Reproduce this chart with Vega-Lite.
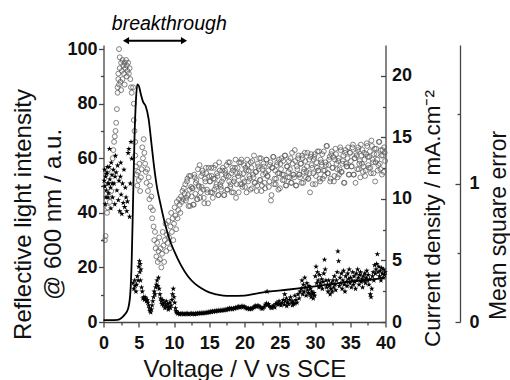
{
"$schema": "https://vega.github.io/schema/vega-lite/v6.json",
"width": 282, "height": 277,
"autosize": {"type": "none"},
"padding": {"left": 103.5, "top": 45, "right": 124.5, "bottom": 58},
"background": "white",
"datasets": {
"refl": [
{"v":0.2,"r":30},{"v":0.3,"r":31.5},{"v":0.5,"r":40},{"v":0.6,"r":42},{"v":0.8,"r":46},{"v":0.9,"r":44},{"v":1.1,"r":48},
{"v":1.2,"r":55},{"v":1.3,"r":60},{"v":1.4,"r":63},{"v":1.5,"r":66},{"v":1.6,"r":68},{"v":1.7,"r":70},{"v":1.8,"r":73},{"v":1.9,"r":78},
{"v":2.0,"r":84},{"v":2.0,"r":86},{"v":2.1,"r":89},{"v":2.1,"r":91},{"v":2.2,"r":100},{"v":2.2,"r":87},{"v":2.3,"r":97},{"v":2.3,"r":93},{"v":2.4,"r":88},{"v":2.5,"r":95},{"v":2.5,"r":85},{"v":2.6,"r":92},{"v":2.7,"r":96},{"v":2.7,"r":89},{"v":2.8,"r":94},{"v":2.9,"r":91},{"v":3.0,"r":95},{"v":3.0,"r":87},{"v":3.1,"r":93},{"v":3.2,"r":96},{"v":3.3,"r":90},{"v":3.3,"r":94},{"v":3.4,"r":92},{"v":3.5,"r":95},{"v":3.6,"r":91},{"v":3.7,"r":93},{"v":3.8,"r":89},{"v":3.9,"r":86},{"v":4.0,"r":84},
{"v":4.2,"r":86},{"v":4.3,"r":80},{"v":4.3,"r":74},{"v":4.4,"r":70},{"v":4.5,"r":66},{"v":4.5,"r":61},{"v":4.6,"r":57},{"v":4.7,"r":54},{"v":4.8,"r":50},{"v":4.9,"r":55},{"v":5.0,"r":52},{"v":5.1,"r":58},{"v":5.2,"r":48},{"v":5.3,"r":53},{"v":5.4,"r":56},{"v":5.5,"r":64},{"v":5.6,"r":60},{"v":5.7,"r":67},{"v":5.8,"r":62},{"v":5.9,"r":58},{"v":6.0,"r":55},{"v":6.1,"r":51},{"v":6.2,"r":56},{"v":6.3,"r":48},{"v":6.4,"r":53},{"v":6.5,"r":45},{"v":6.6,"r":50},{"v":6.7,"r":42},{"v":6.8,"r":46},{"v":6.9,"r":38},{"v":7.0,"r":41},{"v":7.1,"r":35},{"v":7.2,"r":30},{"v":7.3,"r":33},{"v":7.4,"r":27},{"v":7.5,"r":24},{"v":7.6,"r":29},{"v":7.7,"r":22},{"v":7.8,"r":26},{"v":7.9,"r":31},{"v":8.0,"r":23},{"v":8.1,"r":27},{"v":8.2,"r":20},{"v":8.3,"r":25},{"v":8.4,"r":33},{"v":8.5,"r":28},{"v":8.6,"r":22},{"v":8.7,"r":30},{"v":8.8,"r":36},{"v":8.9,"r":26},{"v":9.0,"r":32},{"v":9.1,"r":29},{"v":9.2,"r":37},{"v":9.3,"r":31},{"v":9.4,"r":27},{"v":9.5,"r":35},{"v":9.6,"r":40},{"v":9.7,"r":33},{"v":9.8,"r":38},{"v":9.9,"r":30},{"v":10.0,"r":36},{"v":10.1,"r":42},{"v":10.2,"r":39},{"v":10.3,"r":34},{"v":10.4,"r":44},{"v":10.5,"r":38},{"v":10.6,"r":41},{"v":10.7,"r":45},{"v":10.8,"r":43},{"v":10.9,"r":40},{"v":11.0,"r":46},{"v":11.1,"r":44},{"v":11.2,"r":48},{"v":11.3,"r":45},{"v":11.4,"r":49},{"v":11.5,"r":47},
{"v":11.6,"r":50.5},{"v":11.75,"r":45.5},{"v":11.9,"r":52.5},{"v":12.05,"r":42.5},{"v":12.2,"r":48.5},{"v":12.35,"r":53.5},{"v":12.5,"r":46},{"v":12.65,"r":49},{"v":12.8,"r":43},{"v":12.95,"r":53},{"v":13.1,"r":51},{"v":13.25,"r":45},{"v":13.4,"r":56},{"v":13.55,"r":49.5},{"v":13.7,"r":45.5},{"v":13.85,"r":53.5},{"v":14.0,"r":55.5},{"v":14.15,"r":48.5},{"v":14.3,"r":43.5},{"v":14.45,"r":51.5},{"v":14.6,"r":54.5},{"v":14.75,"r":47.5},{"v":14.9,"r":56.5},
{"v":15.05,"r":51.5},{"v":15.2,"r":47.5},{"v":15.35,"r":53.5},{"v":15.5,"r":45.5},{"v":15.65,"r":56.5},{"v":15.8,"r":52.5},{"v":15.95,"r":49.5},{"v":16.1,"r":54.5},{"v":16.25,"r":46.5},{"v":16.4,"r":58.5},{"v":16.55,"r":50.5},{"v":16.7,"r":48.5},{"v":16.85,"r":55.5},{"v":17.0,"r":52.5},{"v":17.15,"r":46.5},{"v":17.3,"r":54.5},{"v":17.45,"r":57.5},{"v":17.6,"r":48.5},{"v":17.75,"r":53.5},{"v":17.9,"r":58.5},{"v":18.05,"r":50.5},{"v":18.2,"r":47.5},{"v":18.35,"r":55.5},{"v":18.5,"r":51.5},{"v":18.65,"r":56.5},{"v":18.8,"r":45.5},{"v":18.95,"r":54.5},
{"v":19.1,"r":53.5},{"v":19.25,"r":58.5},{"v":19.4,"r":50.5},{"v":19.55,"r":59.5},{"v":19.7,"r":49.5},{"v":19.85,"r":54.5},{"v":20.0,"r":51.5},{"v":20.15,"r":56.5},{"v":20.3,"r":47.5},{"v":20.45,"r":57.5},{"v":20.6,"r":55.5},{"v":20.75,"r":52.5},{"v":20.9,"r":58.5},{"v":21.05,"r":49},{"v":21.2,"r":54},{"v":21.35,"r":61},{"v":21.5,"r":51},{"v":21.65,"r":55},{"v":21.8,"r":50},{"v":21.95,"r":57},{"v":22.1,"r":60},{"v":22.25,"r":52},{"v":22.4,"r":48},{"v":22.55,"r":56},{"v":22.7,"r":58},{"v":22.85,"r":51},
{"v":23.0,"r":54.5},{"v":23.15,"r":59.5},{"v":23.3,"r":53.5},{"v":23.45,"r":49.5},{"v":23.6,"r":57.5},{"v":23.75,"r":44.5},{"v":23.9,"r":56.5},{"v":24.05,"r":60.5},{"v":24.2,"r":50.5},{"v":24.35,"r":55.5},{"v":24.5,"r":52.5},{"v":24.65,"r":58.5},{"v":24.8,"r":48.5},{"v":24.95,"r":54.5},
{"v":25.1,"r":58},{"v":25.25,"r":60},{"v":25.4,"r":52},{"v":25.55,"r":54},{"v":25.7,"r":61},{"v":25.85,"r":50},{"v":26.0,"r":57},{"v":26.15,"r":53},{"v":26.3,"r":59},{"v":26.45,"r":56},{"v":26.6,"r":51},{"v":26.75,"r":62},{"v":26.9,"r":54},{"v":27.05,"r":53},{"v":27.2,"r":59},{"v":27.35,"r":50},{"v":27.5,"r":56},{"v":27.65,"r":61},{"v":27.8,"r":54},{"v":27.95,"r":58},{"v":28.1,"r":51},{"v":28.25,"r":60},{"v":28.4,"r":55},{"v":28.55,"r":62},{"v":28.7,"r":53},{"v":28.85,"r":57},
{"v":29.0,"r":52.5},{"v":29.15,"r":59.5},{"v":29.3,"r":47.5},{"v":29.45,"r":61.5},{"v":29.6,"r":56.5},{"v":29.75,"r":54.5},{"v":29.9,"r":60.5},{"v":30.05,"r":50.5},{"v":30.2,"r":58.5},{"v":30.35,"r":62.5},{"v":30.5,"r":55.5},{"v":30.65,"r":52.5},{"v":30.8,"r":59.5},{"v":30.95,"r":57.5},{"v":31.1,"r":52.5},{"v":31.25,"r":62.5},{"v":31.4,"r":55.5},{"v":31.55,"r":57.5},{"v":31.7,"r":64.5},{"v":31.85,"r":54.5},{"v":32.0,"r":59.5},{"v":32.15,"r":51.5},{"v":32.3,"r":61.5},{"v":32.45,"r":56.5},{"v":32.6,"r":60.5},{"v":32.75,"r":53.5},{"v":32.9,"r":63.5},
{"v":33.05,"r":58},{"v":33.2,"r":53},{"v":33.35,"r":60},{"v":33.5,"r":56},{"v":33.65,"r":63},{"v":33.8,"r":55},{"v":33.95,"r":59},{"v":34.1,"r":51},{"v":34.25,"r":62},{"v":34.4,"r":58},{"v":34.55,"r":57},{"v":34.7,"r":64},{"v":34.85,"r":54},{"v":35.0,"r":62},{"v":35.15,"r":57},{"v":35.3,"r":64},{"v":35.45,"r":54},{"v":35.6,"r":60},{"v":35.75,"r":51},{"v":35.9,"r":61},{"v":36.05,"r":63},{"v":36.2,"r":56},{"v":36.35,"r":59},{"v":36.5,"r":65},{"v":36.65,"r":58},{"v":36.8,"r":55},{"v":36.95,"r":62},
{"v":37.1,"r":53.5},{"v":37.25,"r":61.5},{"v":37.4,"r":64.5},{"v":37.55,"r":57.5},{"v":37.7,"r":60.5},{"v":37.85,"r":56.5},{"v":38.0,"r":66.5},{"v":38.15,"r":59.5},{"v":38.3,"r":54.5},{"v":38.45,"r":63.5},{"v":38.6,"r":58.5},{"v":38.75,"r":61.5},{"v":38.9,"r":55.5},{"v":39.05,"r":66},{"v":39.2,"r":58},{"v":39.35,"r":63},{"v":39.5,"r":54},{"v":39.65,"r":61},{"v":39.8,"r":64},{"v":39.95,"r":59},
{"v":11.68,"r":44.5},{"v":11.83,"r":51.5},{"v":11.98,"r":46.5},{"v":12.13,"r":53.5},{"v":12.28,"r":42.5},{"v":12.43,"r":49.5},{"v":12.58,"r":49},{"v":12.73,"r":43},{"v":12.88,"r":54},{"v":13.03,"r":47},{"v":13.18,"r":52},{"v":13.33,"r":45},{"v":13.48,"r":50},{"v":13.63,"r":57.5},{"v":13.78,"r":47.5},{"v":13.93,"r":49.5},{"v":14.08,"r":54.5},{"v":14.23,"r":45.5},{"v":14.38,"r":52.5},{"v":14.53,"r":56.5},{"v":14.68,"r":48.5},{"v":14.83,"r":43.5},{"v":14.98,"r":53.5},
{"v":15.13,"r":51.5},{"v":15.28,"r":56.5},{"v":15.43,"r":47.5},{"v":15.58,"r":52.5},{"v":15.73,"r":48.5},{"v":15.88,"r":57.5},{"v":16.03,"r":50.5},{"v":16.18,"r":53.5},{"v":16.33,"r":46.5},{"v":16.48,"r":55.5},{"v":16.63,"r":49.5},{"v":16.78,"r":51.5},{"v":16.93,"r":56.5},{"v":17.08,"r":46.5},{"v":17.23,"r":55.5},{"v":17.38,"r":53.5},{"v":17.53,"r":48.5},{"v":17.68,"r":58.5},{"v":17.83,"r":51.5},{"v":17.98,"r":49.5},{"v":18.13,"r":54.5},{"v":18.28,"r":56.5},{"v":18.43,"r":47.5},{"v":18.58,"r":52.5},{"v":18.73,"r":59.5},{"v":18.88,"r":50.5},
{"v":19.03,"r":56.5},{"v":19.18,"r":47.5},{"v":19.33,"r":54.5},{"v":19.48,"r":58.5},{"v":19.63,"r":50.5},{"v":19.78,"r":52.5},{"v":19.93,"r":57.5},{"v":20.08,"r":49.5},{"v":20.23,"r":55.5},{"v":20.38,"r":59.5},{"v":20.53,"r":51.5},{"v":20.68,"r":53.5},{"v":20.83,"r":48.5},{"v":20.98,"r":56.5},{"v":21.13,"r":59},{"v":21.28,"r":53},{"v":21.43,"r":51},{"v":21.58,"r":55},{"v":21.73,"r":48},{"v":21.88,"r":58},{"v":22.03,"r":56},{"v":22.18,"r":52},{"v":22.33,"r":60},{"v":22.48,"r":50},{"v":22.63,"r":54},{"v":22.78,"r":57},{"v":22.93,"r":49},
{"v":23.08,"r":59.5},{"v":23.23,"r":53.5},{"v":23.38,"r":55.5},{"v":23.53,"r":51.5},{"v":23.68,"r":58.5},{"v":23.83,"r":46.5},{"v":23.98,"r":56.5},{"v":24.13,"r":60.5},{"v":24.28,"r":52.5},{"v":24.43,"r":50.5},{"v":24.58,"r":57.5},{"v":24.73,"r":54.5},{"v":24.88,"r":59.5},{"v":25.03,"r":49},{"v":25.18,"r":56},{"v":25.33,"r":54},{"v":25.48,"r":59},{"v":25.63,"r":52},{"v":25.78,"r":61},{"v":25.93,"r":50},{"v":26.08,"r":57},{"v":26.23,"r":55},{"v":26.38,"r":53},{"v":26.53,"r":60},{"v":26.68,"r":51},{"v":26.83,"r":58},{"v":26.98,"r":54},
{"v":27.13,"r":63},{"v":27.28,"r":50},{"v":27.43,"r":57},{"v":27.58,"r":60},{"v":27.73,"r":54},{"v":27.88,"r":53},{"v":28.03,"r":58},{"v":28.18,"r":61},{"v":28.33,"r":51},{"v":28.48,"r":56},{"v":28.63,"r":59},{"v":28.78,"r":55},{"v":28.93,"r":62},{"v":29.08,"r":52.5},{"v":29.23,"r":54.5},{"v":29.38,"r":60.5},{"v":29.53,"r":57.5},{"v":29.68,"r":50.5},{"v":29.83,"r":59.5},{"v":29.98,"r":61.5},{"v":30.13,"r":53.5},{"v":30.28,"r":56.5},{"v":30.43,"r":55.5},{"v":30.58,"r":62.5},{"v":30.73,"r":51.5},{"v":30.88,"r":58.5},
{"v":31.03,"r":61.5},{"v":31.18,"r":55.5},{"v":31.33,"r":53.5},{"v":31.48,"r":58.5},{"v":31.63,"r":64.5},{"v":31.78,"r":54.5},{"v":31.93,"r":57.5},{"v":32.08,"r":60.5},{"v":32.23,"r":52.5},{"v":32.38,"r":62.5},{"v":32.53,"r":56.5},{"v":32.68,"r":51.5},{"v":32.83,"r":59.5},{"v":32.98,"r":61.5},{"v":33.13,"r":56},{"v":33.28,"r":59},{"v":33.43,"r":54},{"v":33.58,"r":64},{"v":33.73,"r":55},{"v":33.88,"r":58},{"v":34.03,"r":61},{"v":34.18,"r":51},{"v":34.33,"r":63},{"v":34.48,"r":57},{"v":34.63,"r":60},{"v":34.78,"r":54},{"v":34.93,"r":62},
{"v":35.08,"r":59},{"v":35.23,"r":57},{"v":35.38,"r":65},{"v":35.53,"r":54},{"v":35.68,"r":60},{"v":35.83,"r":62},{"v":35.98,"r":56},{"v":36.13,"r":64},{"v":36.28,"r":58},{"v":36.43,"r":53},{"v":36.58,"r":61},{"v":36.73,"r":63},{"v":36.88,"r":57},{"v":37.03,"r":59.5},{"v":37.18,"r":55.5},{"v":37.33,"r":65.5},{"v":37.48,"r":60.5},{"v":37.63,"r":56.5},{"v":37.78,"r":62.5},{"v":37.93,"r":54.5},{"v":38.08,"r":64.5},{"v":38.23,"r":58.5},{"v":38.38,"r":61.5},{"v":38.53,"r":51.5},{"v":38.68,"r":63.5},{"v":38.83,"r":59.5},{"v":38.98,"r":57.5},{"v":39.13,"r":66},{"v":39.28,"r":56},{"v":39.43,"r":61},{"v":39.58,"r":63},{"v":39.73,"r":55},{"v":39.88,"r":62}
],
"mse": [
{"v":0.1,"m":1.02},{"v":0.15,"m":1.1},{"v":0.2,"m":0.98},{"v":0.25,"m":0.85},{"v":0.3,"m":1.05},{"v":0.35,"m":0.9},{"v":0.4,"m":0.95},{"v":0.45,"m":1.07},{"v":0.5,"m":1.08},{"v":0.55,"m":1.12},{"v":0.6,"m":1.0},{"v":0.65,"m":0.9},{"v":0.7,"m":0.93},{"v":0.75,"m":1.0},{"v":0.8,"m":1.12},{"v":0.85,"m":1.25},{"v":0.9,"m":1.03},{"v":1.0,"m":0.97},{"v":1.05,"m":0.82},{"v":1.1,"m":1.15},{"v":1.2,"m":1.06},{"v":1.25,"m":1.0},{"v":1.3,"m":0.9},{"v":1.4,"m":1.1},{"v":1.5,"m":1.0},{"v":1.6,"m":0.85},{"v":1.65,"m":1.05},{"v":1.7,"m":1.2},{"v":1.8,"m":1.08},{"v":1.9,"m":0.95},{"v":2.0,"m":1.13},{"v":2.1,"m":0.88},{"v":2.2,"m":1.02},{"v":2.3,"m":0.8},{"v":2.4,"m":1.05},{"v":2.45,"m":1.15},{"v":2.5,"m":0.92},{"v":2.6,"m":0.78},{"v":2.7,"m":1.0},{"v":2.8,"m":0.86},{"v":2.9,"m":1.1},{"v":3.0,"m":0.83},{"v":3.1,"m":0.97},{"v":3.2,"m":0.9},{"v":3.3,"m":0.8},{"v":3.4,"m":0.87},{"v":3.5,"m":1.22},{"v":3.6,"m":1.25},{"v":3.7,"m":0.76},{"v":3.8,"m":1.0},{"v":3.9,"m":1.3},{"v":4.0,"m":1.18},
{"v":4.2,"m":0.28},{"v":4.3,"m":0.24},{"v":4.4,"m":0.3},{"v":4.5,"m":0.26},{"v":4.6,"m":0.22},{"v":4.7,"m":0.27},{"v":4.8,"m":0.33},{"v":4.9,"m":0.3},{"v":5.0,"m":0.4},{"v":5.1,"m":0.44},{"v":5.15,"m":0.36},{"v":5.2,"m":0.42},{"v":5.25,"m":0.3},{"v":5.3,"m":0.38},{"v":5.4,"m":0.25},{"v":5.5,"m":0.22},
{"v":5.6,"m":0.17},{"v":5.7,"m":0.18},{"v":5.8,"m":0.16},{"v":5.9,"m":0.18},{"v":6.0,"m":0.17},{"v":6.1,"m":0.15},{"v":6.2,"m":0.16},{"v":6.3,"m":0.14},{"v":6.4,"m":0.12},{"v":6.5,"m":0.1},{"v":6.6,"m":0.08},{"v":6.7,"m":0.07},{"v":6.8,"m":0.09},{"v":6.9,"m":0.12},
{"v":7.0,"m":0.15},{"v":7.1,"m":0.18},{"v":7.2,"m":0.22},{"v":7.3,"m":0.2},{"v":7.4,"m":0.25},{"v":7.5,"m":0.27},{"v":7.6,"m":0.3},{"v":7.7,"m":0.26},{"v":7.8,"m":0.32},{"v":7.9,"m":0.24},{"v":8.0,"m":0.2},{"v":8.1,"m":0.17},
{"v":8.2,"m":0.15},{"v":8.3,"m":0.13},{"v":8.4,"m":0.16},{"v":8.5,"m":0.12},{"v":8.6,"m":0.14},{"v":8.7,"m":0.1},{"v":8.8,"m":0.12},{"v":8.9,"m":0.15},{"v":9.0,"m":0.11},{"v":9.1,"m":0.13},{"v":9.2,"m":0.09},{"v":9.3,"m":0.11},{"v":9.4,"m":0.14},{"v":9.5,"m":0.1},{"v":9.6,"m":0.12},{"v":9.7,"m":0.16},{"v":9.8,"m":0.2},{"v":9.9,"m":0.24},{"v":10.0,"m":0.18},{"v":10.1,"m":0.14},{"v":10.2,"m":0.1},{"v":10.3,"m":0.08},
{"v":10.35,"m":0.07},{"v":10.5,"m":0.06},{"v":10.65,"m":0.065},{"v":10.8,"m":0.055},{"v":10.95,"m":0.06},{"v":11.1,"m":0.058},{"v":11.25,"m":0.062},{"v":11.4,"m":0.055},{"v":11.55,"m":0.06},{"v":11.7,"m":0.057},{"v":11.85,"m":0.063},{"v":12.0,"m":0.058},{"v":12.15,"m":0.055},{"v":12.3,"m":0.06},{"v":12.45,"m":0.062},{"v":12.6,"m":0.057},{"v":12.75,"m":0.06},{"v":12.9,"m":0.055},{"v":13.05,"m":0.061},{"v":13.2,"m":0.058},{"v":13.35,"m":0.063},{"v":13.5,"m":0.06},{"v":13.65,"m":0.065},{"v":13.8,"m":0.062},{"v":13.95,"m":0.066},{"v":14.1,"m":0.063},{"v":14.25,"m":0.068},{"v":14.4,"m":0.064},{"v":14.55,"m":0.07},{"v":14.7,"m":0.066},{"v":14.85,"m":0.072},
{"v":15.0,"m":0.07},{"v":15.15,"m":0.075},{"v":15.3,"m":0.072},{"v":15.45,"m":0.078},{"v":15.6,"m":0.074},{"v":15.75,"m":0.08},{"v":15.9,"m":0.076},{"v":16.05,"m":0.082},{"v":16.2,"m":0.078},{"v":16.35,"m":0.084},{"v":16.5,"m":0.08},{"v":16.65,"m":0.086},{"v":16.8,"m":0.082},{"v":16.95,"m":0.088},{"v":17.1,"m":0.084},{"v":17.25,"m":0.09},{"v":17.4,"m":0.086},{"v":17.55,"m":0.095},{"v":17.7,"m":0.09},{"v":17.85,"m":0.1},{"v":18.0,"m":0.094},{"v":18.15,"m":0.098},{"v":18.3,"m":0.092},{"v":18.45,"m":0.1},{"v":18.6,"m":0.096},{"v":18.75,"m":0.105},{"v":18.9,"m":0.1},{"v":19.05,"m":0.108},{"v":19.2,"m":0.112},{"v":19.35,"m":0.104},{"v":19.5,"m":0.11},{"v":19.65,"m":0.116},{"v":19.8,"m":0.108},{"v":19.95,"m":0.112},
{"v":20.1,"m":0.105},{"v":20.25,"m":0.1},{"v":20.4,"m":0.095},{"v":20.55,"m":0.1},{"v":20.7,"m":0.092},{"v":20.85,"m":0.098},{"v":21.0,"m":0.094},{"v":21.15,"m":0.1},{"v":21.3,"m":0.106},{"v":21.45,"m":0.112},{"v":21.6,"m":0.118},{"v":21.75,"m":0.11},{"v":21.9,"m":0.12},{"v":22.05,"m":0.114},{"v":22.2,"m":0.108},{"v":22.35,"m":0.1},{"v":22.5,"m":0.095},{"v":22.65,"m":0.1},{"v":22.8,"m":0.11},{"v":22.95,"m":0.125},{"v":23.1,"m":0.135},{"v":23.2,"m":0.22},{"v":23.25,"m":0.12},{"v":23.4,"m":0.13},{"v":23.55,"m":0.115},{"v":23.7,"m":0.105},{"v":23.85,"m":0.1},{"v":24.0,"m":0.11},{"v":24.15,"m":0.12},{"v":24.3,"m":0.105},{"v":24.45,"m":0.13},{"v":24.6,"m":0.14},{"v":24.75,"m":0.125},{"v":24.9,"m":0.15},
{"v":25.05,"m":0.13},{"v":25.2,"m":0.12},{"v":25.35,"m":0.14},{"v":25.5,"m":0.16},{"v":25.65,"m":0.125},{"v":25.7,"m":0.2},{"v":25.8,"m":0.15},{"v":25.95,"m":0.17},{"v":26.0,"m":0.115},{"v":26.1,"m":0.14},{"v":26.25,"m":0.13},{"v":26.4,"m":0.16},{"v":26.55,"m":0.18},{"v":26.7,"m":0.14},{"v":26.8,"m":0.12},{"v":26.85,"m":0.15},{"v":27.0,"m":0.13},{"v":27.15,"m":0.19},{"v":27.2,"m":0.135},{"v":27.3,"m":0.16},{"v":27.45,"m":0.14},{"v":27.6,"m":0.2},{"v":27.75,"m":0.17},{"v":27.9,"m":0.22},
{"v":28.05,"m":0.24},{"v":28.15,"m":0.3},{"v":28.25,"m":0.2},{"v":28.35,"m":0.27},{"v":28.45,"m":0.22},{"v":28.55,"m":0.32},{"v":28.65,"m":0.25},{"v":28.75,"m":0.19},{"v":28.85,"m":0.28},{"v":28.95,"m":0.23},{"v":29.05,"m":0.21},{"v":29.15,"m":0.26},{"v":29.25,"m":0.2},{"v":29.35,"m":0.24},{"v":29.45,"m":0.18},{"v":29.55,"m":0.22},{"v":29.65,"m":0.2},{"v":29.75,"m":0.17},{"v":29.85,"m":0.21},{"v":29.95,"m":0.19},{"v":30.05,"m":0.33},{"v":30.15,"m":0.4},{"v":30.25,"m":0.28},{"v":30.35,"m":0.36},{"v":30.45,"m":0.3},{"v":30.55,"m":0.25},{"v":30.65,"m":0.34},{"v":30.75,"m":0.28},{"v":30.85,"m":0.26},{"v":30.95,"m":0.31},{"v":31.05,"m":0.24},{"v":31.15,"m":0.29},{"v":31.25,"m":0.35},{"v":31.35,"m":0.45},{"v":31.45,"m":0.38},{"v":31.55,"m":0.3},{"v":31.65,"m":0.25},{"v":31.75,"m":0.27},{"v":31.85,"m":0.22},{"v":31.95,"m":0.3},{"v":32.05,"m":0.26},{"v":32.15,"m":0.2},{"v":32.25,"m":0.24},{"v":32.35,"m":0.28},{"v":32.45,"m":0.22},{"v":32.55,"m":0.3},{"v":32.65,"m":0.25},{"v":32.75,"m":0.33},{"v":32.85,"m":0.27},{"v":32.95,"m":0.23},
{"v":33.05,"m":0.3},{"v":33.15,"m":0.36},{"v":33.25,"m":0.51},{"v":33.35,"m":0.44},{"v":33.45,"m":0.26},{"v":33.55,"m":0.32},{"v":33.65,"m":0.28},{"v":33.75,"m":0.35},{"v":33.85,"m":0.24},{"v":33.95,"m":0.3},{"v":34.05,"m":0.37},{"v":34.15,"m":0.27},{"v":34.25,"m":0.22},{"v":34.35,"m":0.33},{"v":34.45,"m":0.29},{"v":34.55,"m":0.26},{"v":34.65,"m":0.35},{"v":34.75,"m":0.31},{"v":34.85,"m":0.38},{"v":34.95,"m":0.28},{"v":35.05,"m":0.32},{"v":35.15,"m":0.25},{"v":35.25,"m":0.3},{"v":35.35,"m":0.36},{"v":35.45,"m":0.27},{"v":35.55,"m":0.33},{"v":35.65,"m":0.29},{"v":35.75,"m":0.24},{"v":35.85,"m":0.35},{"v":35.95,"m":0.3},{"v":36.05,"m":0.38},{"v":36.15,"m":0.32},{"v":36.25,"m":0.27},{"v":36.35,"m":0.34},{"v":36.45,"m":0.36},{"v":36.55,"m":0.29},{"v":36.65,"m":0.31},{"v":36.75,"m":0.25},{"v":36.85,"m":0.33},{"v":36.95,"m":0.3},{"v":37.05,"m":0.35},{"v":37.15,"m":0.28},{"v":37.25,"m":0.32},{"v":37.35,"m":0.37},{"v":37.45,"m":0.3},{"v":37.55,"m":0.34},{"v":37.65,"m":0.27},{"v":37.75,"m":0.31},{"v":37.85,"m":0.2},{"v":37.95,"m":0.18},{"v":38.05,"m":0.24},{"v":38.15,"m":0.33},{"v":38.25,"m":0.36},{"v":38.35,"m":0.3},{"v":38.45,"m":0.41},{"v":38.55,"m":0.35},{"v":38.65,"m":0.38},{"v":38.75,"m":0.42},{"v":38.85,"m":0.49},{"v":38.95,"m":0.36},{"v":39.05,"m":0.4},{"v":39.15,"m":0.33},{"v":39.25,"m":0.37},{"v":39.35,"m":0.3},{"v":39.45,"m":0.39},{"v":39.55,"m":0.35},{"v":39.65,"m":0.32},{"v":39.75,"m":0.38},{"v":39.85,"m":0.34},{"v":39.95,"m":0.36}
],
"cur": [
{"v":0,"c":0.16},{"v":1,"c":0.16},{"v":2,"c":0.18},{"v":2.5,"c":0.3},{"v":3,"c":0.6},{"v":3.5,"c":1.1},{"v":3.8,"c":2.3},{"v":4.0,"c":5},{"v":4.2,"c":10},{"v":4.4,"c":15},{"v":4.6,"c":18},{"v":4.8,"c":19.3},{"v":5.0,"c":19.2},{"v":5.3,"c":18.5},{"v":5.6,"c":17.9},{"v":6.0,"c":17.5},{"v":6.4,"c":16.5},{"v":6.8,"c":14.5},{"v":7.2,"c":12.5},{"v":7.6,"c":10.9},{"v":8.0,"c":9.8},{"v":8.5,"c":8.5},{"v":9.0,"c":7.4},{"v":9.5,"c":6.5},{"v":10,"c":5.8},{"v":11,"c":4.6},{"v":12,"c":3.7},{"v":13,"c":3.1},{"v":14,"c":2.7},{"v":15,"c":2.4},{"v":16,"c":2.25},{"v":17,"c":2.15},{"v":18,"c":2.12},{"v":20,"c":2.15},{"v":22,"c":2.35},{"v":24,"c":2.5},{"v":26,"c":2.62},{"v":28,"c":2.75},{"v":30,"c":2.9},{"v":32,"c":3.05},{"v":34,"c":3.2},{"v":36,"c":3.35},{"v":38,"c":3.45},{"v":40,"c":3.6}
],
"arrow": [{"v":3.2,"v2":11.4,"y":103.1}],
"heads": [{"v":3.19,"y":103.1,"end":"L"},{"v":11.42,"y":103.1,"end":"R"}],
"note": [{"v":9.33,"y":107,"t":"breakthrough"}]
},
"encoding": {
"x": {"field":"v","type":"quantitative","scale":{"domain":[0,40],"nice":false},
 "axis":{"values":[0,2.5,5,7.5,10,12.5,15,17.5,20,22.5,25,27.5,30,32.5,35,37.5,40],
  "labelExpr":"datum.value % 5 === 0 ? datum.label : ''",
  "tickSize":{"condition":{"test":"datum.value % 5 === 0","value":5},"value":3},
  "labelBaseline":"alphabetic","labelPadding":21,"labelFlush":false,"labelOverlap":false,
  "title":"Voltage / V vs SCE","titleBaseline":"alphabetic","titleY":54,"titleX":141,"titleAlign":"center","titleAnchor":"middle"}}
},
"layer": [
{"data":{"name":"refl"},
 "mark":{"type":"point","shape":"circle","filled":false,"stroke":"#5a5a5a","strokeWidth":0.75,"size":24,"opacity":1},
 "encoding":{"y":{"field":"r","type":"quantitative","scale":{"domain":[0,101.5],"nice":false,"zero":false},
  "axis":{"orient":"left","values":[0,10,20,30,40,50,60,70,80,90,100],
   "labelExpr":"datum.value % 20 === 0 ? datum.label : ''",
   "tickSize":{"condition":{"test":"datum.value % 20 === 0","value":5},"value":3},
   "labelPadding":1.5,"labelFlush":false,"labelOverlap":false,
   "title":["Reflective light intensity","@ 600 nm / a.u."],"titleAngle":-90,"titleX":-80.25,"titleY":169,
   "titleAlign":"center","titleBaseline":"middle","titleLineHeight":30}}}},
{"data":{"name":"mse"},
 "mark":{"type":"point","shape":"M0,-1L0.225,-0.309L0.951,-0.309L0.363,0.118L0.588,0.809L0,0.382L-0.588,0.809L-0.363,0.118L-0.951,-0.309L-0.225,-0.309Z","filled":true,"color":"black","size":36,"opacity":1},
 "encoding":{"y":{"field":"m","type":"quantitative","scale":{"domain":[0,2],"nice":false},
  "axis":{"orient":"right","offset":74.5,"values":[0,0.5,1,1.5],
   "labelExpr":"datum.value % 1 === 0 ? format(datum.value, 'd') : ''",
   "tickSize":{"condition":{"test":"datum.value % 1 === 0","value":-5},"value":-3},
   "labelPadding":14,"labelFlush":false,"labelOverlap":false,
   "title":"Mean square error","titleFontSize":23,"titleAngle":-90,"titleX":38.5,"titleY":180,"titleAlign":"center","titleBaseline":"middle"}}}},
{"data":{"name":"cur"},
 "mark":{"type":"line","color":"black","strokeWidth":1.8,"interpolate":"monotone"},
 "encoding":{"y":{"field":"c","type":"quantitative","scale":{"domain":[0,22.5],"nice":false},
  "axis":{"orient":"right","values":[0,2.5,5,7.5,10,12.5,15,17.5,20],
   "labelExpr":"datum.value % 5 === 0 ? datum.label : ''",
   "tickSize":{"condition":{"test":"datum.value % 5 === 0","value":-5},"value":-3},
   "labelPadding":11,"labelFlush":false,"labelOverlap":false,
   "title":"Current density / mA.cm⁻²","titleFontSize":22.5,"titleAngle":-90,"titleX":46.5,"titleY":173,"titleAlign":"center","titleBaseline":"middle"}}}},
{"data":{"name":"arrow"},
 "mark":{"type":"rule","color":"black","strokeWidth":2},
 "encoding":{"x2":{"field":"v2"},"y":{"field":"y","type":"quantitative","scale":{"domain":[0,101.5],"nice":false},"axis":null}}},
{"data":{"name":"heads"},
 "mark":{"type":"point","filled":true,"color":"black","size":50,"opacity":1},
 "encoding":{"shape":{"field":"end","type":"nominal","scale":{"domain":["L","R"],"range":["triangle-left","triangle-right"]},"legend":null},
  "y":{"field":"y","type":"quantitative","scale":{"domain":[0,101.5],"nice":false},"axis":null}}},
{"data":{"name":"note"},
 "mark":{"type":"text","font":"Liberation Sans","fontStyle":"italic","fontSize":19.5,"baseline":"alphabetic","align":"center","color":"black"},
 "encoding":{"text":{"field":"t"},"y":{"field":"y","type":"quantitative","scale":{"domain":[0,101.5],"nice":false},"axis":null}}}
],
"resolve":{"scale":{"y":"independent"},"axis":{"y":"independent"}},
"config":{
 "view":{"stroke":null},
 "axis":{"grid":false,"labelFont":"Liberation Sans","labelFontWeight":"bold","labelFontSize":18,"labelColor":"#111",
  "titleFont":"Liberation Sans","titleFontWeight":"normal","titleFontSize":24,"titleColor":"#111",
  "domainColor":"#444","domainWidth":1.3,"tickColor":"#444","tickWidth":1.3}
}
}
